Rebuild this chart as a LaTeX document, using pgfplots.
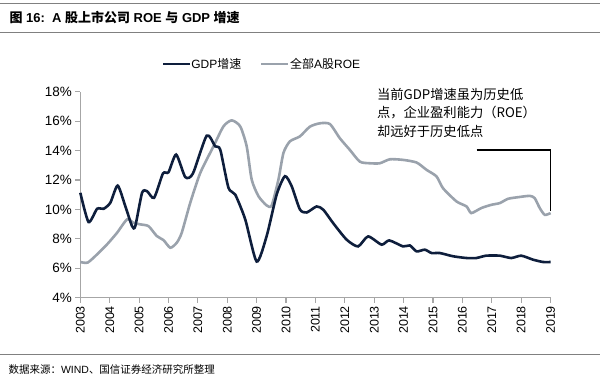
\documentclass[border=0pt]{standalone}
\usepackage{pgfplots}
\pgfplotsset{compat=1.18}
\usepackage{fontspec}
\setmainfont{Liberation Sans}
\newfontfamily\cjk{Noto Sans CJK SC}
\definecolor{gdp}{HTML}{0E1E3C}
\definecolor{roe}{HTML}{9AA2AC}
\definecolor{rulec}{HTML}{808080}
\definecolor{axc}{HTML}{A6A6A6}
\begin{document}
\begin{tikzpicture}
\path (0pt,0pt) rectangle (600pt,377pt);
\draw[rulec, line width=0.9pt] (0pt,374pt) -- (600pt,374pt);
\draw[rulec, line width=0.9pt] (0pt,344pt) -- (600pt,344pt);
\draw[rulec, line width=0.9pt] (0pt,22pt) -- (600pt,22pt);
\node[anchor=west, inner sep=0pt, font=\fontsize{13}{15}\selectfont\bfseries] at (9pt,359pt) {{\cjk 图} 16:\ \ A {\cjk 股上市公司} ROE {\cjk 与} GDP {\cjk 增速}};
\node[anchor=west, inner sep=0pt, font=\fontsize{10.5}{12}\selectfont] at (8pt,7pt) {{\cjk 数据来源：}WIND{\cjk 、国信证券经济研究所整理}};
% legend
\draw[gdp, line width=2.6pt] (163pt,313pt) -- (190pt,313pt);
\node[anchor=west, inner sep=0pt, font=\fontsize{12}{14}\selectfont] at (191pt,313pt) {GDP{\cjk 增速}};
\draw[roe, line width=2.6pt] (261pt,313pt) -- (288pt,313pt);
\node[anchor=west, inner sep=0pt, font=\fontsize{12}{14}\selectfont] at (290pt,313pt) {{\cjk 全部}A{\cjk 股}ROE};
% annotation text
\node[anchor=west, inner sep=0pt, font=\fontsize{13.3}{15}\selectfont\cjk] at (377pt,282pt) {当前GDP增速虽为历史低};
\node[anchor=west, inner sep=0pt, font=\fontsize{13.3}{15}\selectfont\cjk] at (377pt,264pt) {点，企业盈利能力（ROE）};
\node[anchor=west, inner sep=0pt, font=\fontsize{13.3}{15}\selectfont\cjk] at (377pt,245pt) {却远好于历史低点};
\begin{axis}[
  at={(80pt,79pt)}, anchor=south west,
  scale only axis, width=471pt, height=206pt,
  xmin=2003, xmax=2019, ymin=4, ymax=18,
  axis x line*=bottom, axis y line*=left,
  axis line style={axc, line width=1.6pt},
  xtick={2003,...,2019}, ytick={4,6,...,18},
  tick align=outside,
  major tick length=5pt,
  tick style={axc, line width=1.2pt},
  x tick label style={rotate=90, anchor=east, font=\fontsize{12.5}{14}\selectfont, /pgf/number format/1000 sep={}},
  y tick label style={font=\fontsize{13.5}{15}\selectfont},
  yticklabel={\pgfmathprintnumber{\tick}\%},
  /pgf/number format/assume math mode=true,
  xticklabel style={/pgf/number format/1000 sep={}},
  clip=false,
]
\addplot[roe, line width=2.6pt, smooth, tension=0.4] coordinates {
(2003.0,6.42)(2003.25,6.38)(2003.57,6.94)(2003.91,7.62)(2004.25,8.41)(2004.59,9.32)
(2004.81,9.09)(2005.04,8.98)(2005.32,8.86)(2005.6,8.19)(2005.83,7.91)(2006.06,7.39)
(2006.28,7.73)(2006.45,8.41)(2006.74,10.45)(2007.08,12.48)(2007.53,14.29)(2007.87,15.65)
(2008.15,16.06)(2008.44,15.65)(2008.66,14.29)(2008.83,12.03)(2009.06,10.9)(2009.34,10.27)
(2009.51,10.27)(2009.74,12.03)(2009.91,13.84)(2010.13,14.63)(2010.47,14.97)(2010.81,15.63)
(2011.15,15.86)(2011.49,15.81)(2011.83,14.84)(2012.17,14.05)(2012.51,13.25)(2012.85,13.14)
(2013.19,13.14)(2013.53,13.41)(2013.98,13.37)(2014.44,13.19)(2014.78,12.69)(2015.12,12.24)
(2015.34,11.44)(2015.80,10.54)(2016.14,10.2)(2016.30,9.75)(2016.64,10.09)(2016.98,10.31)
(2017.27,10.43)(2017.55,10.72)(2017.89,10.83)(2018.29,10.92)(2018.46,10.76)(2018.63,10.09)
(2018.80,9.63)(2019.0,9.75)
};
\addplot[gdp, line width=2.6pt, smooth, tension=0.4] coordinates {
(2003.0,11.13)(2003.28,9.14)(2003.57,10.04)(2003.79,10.04)(2004.02,10.45)(2004.27,11.62)
(2004.53,10.22)(2004.76,8.86)(2004.87,8.86)(2005.1,11.13)(2005.27,11.24)(2005.51,10.79)
(2005.81,12.44)(2006.0,12.53)(2006.26,13.73)(2006.57,12.2)(2006.83,12.44)(2007.3,15.02)
(2007.59,14.29)(2007.76,14.07)(2008.04,11.47)(2008.27,11.01)(2008.61,9.32)(2009.0,6.45)
(2009.34,8.19)(2009.68,11.01)(2009.96,12.26)(2010.19,11.58)(2010.47,10.0)(2010.70,9.79)
(2011.04,10.2)(2011.27,9.97)(2011.60,9.07)(2012.06,7.94)(2012.45,7.48)(2012.79,8.16)
(2013.25,7.6)(2013.51,7.89)(2013.98,7.48)(2014.21,7.55)(2014.44,7.14)(2014.72,7.26)
(2014.95,7.03)(2015.23,7.03)(2015.68,6.81)(2016.14,6.69)(2016.47,6.69)(2016.81,6.85)
(2017.27,6.85)(2017.66,6.69)(2018.0,6.85)(2018.4,6.58)(2018.74,6.42)(2019.0,6.42)
};
\draw[black, line width=1.3pt] (axis cs:2016.48,14.04) -- (axis cs:2019,14.04) -- (axis cs:2019,9.9);
\end{axis}
\end{tikzpicture}
\end{document}
